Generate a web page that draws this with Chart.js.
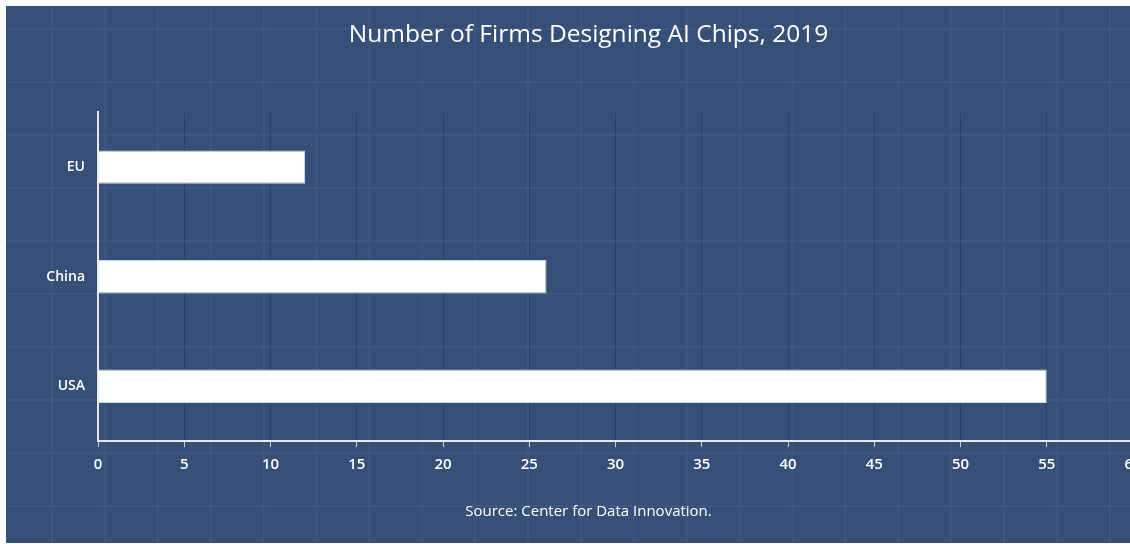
<!DOCTYPE html>
<html>
<head>
<meta charset="utf-8">
<script src="https://cdn.jsdelivr.net/npm/chart.js@4"></script>
<style>
  html, body { margin: 0; padding: 0; background: #fff; overflow: hidden; width: 1130px; height: 544px; }
  #wrap {
    position: absolute; left: 6px; top: 6px; width: 1170px; height: 537px;
    background-color: #364f76;
    background-image:
      linear-gradient(to right, #3e5781 2px, transparent 2px),
      linear-gradient(to bottom, #3e5781 2px, transparent 2px);
    background-size: 52.9px 53px;
    background-position: 45px 22px;
  }
</style>
</head>
<body>
<div id="wrap"><canvas id="firmsChart" width="1170" height="537"></canvas></div>
<script>
var regions = ['EU', 'China', 'USA'];
var firms = [12, 26, 55];
var xTicks = [0, 60, 5]; // min, max, step

document.addEventListener('DOMContentLoaded', function () {
    var ctx = document.getElementById('firmsChart').getContext('2d');
    var font = '"Open Sans", Lato, sans-serif';
    var firmsChart = new Chart(ctx, {
        type: 'bar',
        data: {
            labels: regions,
            datasets: [{
                label: 'Firms',
                data: firms,
                backgroundColor: '#ffffff',
                borderColor: '#cfd3da',
                borderWidth: 1,
                categoryPercentage: 1,
                barPercentage: 0.305
            }]
        },
        options: {
            indexAxis: 'y',
            responsive: false,
            animation: false,
            devicePixelRatio: 1,
            // left padding keeps the title centred like the original
            layout: { padding: { left: 38, right: 43, top: 0, bottom: 0 } },
            plugins: {
                legend: { display: false },
                tooltip: { enabled: false },
                title: {
                    display: true,
                    text: 'Number of Firms Designing AI Chips, 2019',
                    color: '#ffffff',
                    font: { family: font, size: 24.5, weight: 'normal' },
                    padding: { top: 14, bottom: 63 }
                },
                subtitle: {
                    display: true,
                    position: 'bottom',
                    text: 'Source: Center for Data Innovation.',
                    color: '#ffffff',
                    font: { family: font, size: 15, weight: 'normal' },
                    padding: { top: 20, bottom: 22 }
                }
            },
            scales: {
                x: {
                    min: xTicks[0],
                    max: xTicks[1],
                    ticks: {
                        stepSize: xTicks[2],
                        color: '#ffffff',
                        padding: 9,
                        font: { family: font, size: 15, weight: '600' }
                    },
                    grid: {
                        color: 'rgba(20, 35, 60, 0.3)',
                        tickColor: '#c8ccd4',
                        tickLength: 6,
                        lineWidth: 1
                    },
                    border: { color: '#e8e8e8', width: 2 }
                },
                y: {
                    ticks: {
                        color: '#ffffff',
                        padding: 13,
                        font: { family: font, size: 14, weight: '600' }
                    },
                    grid: { display: false, drawTicks: false },
                    border: { color: '#e8e8e8', width: 2 },
                    afterFit: function (scale) { scale.width = 54; }
                }
            }
        }
    });
});
</script>
</body>
</html>
